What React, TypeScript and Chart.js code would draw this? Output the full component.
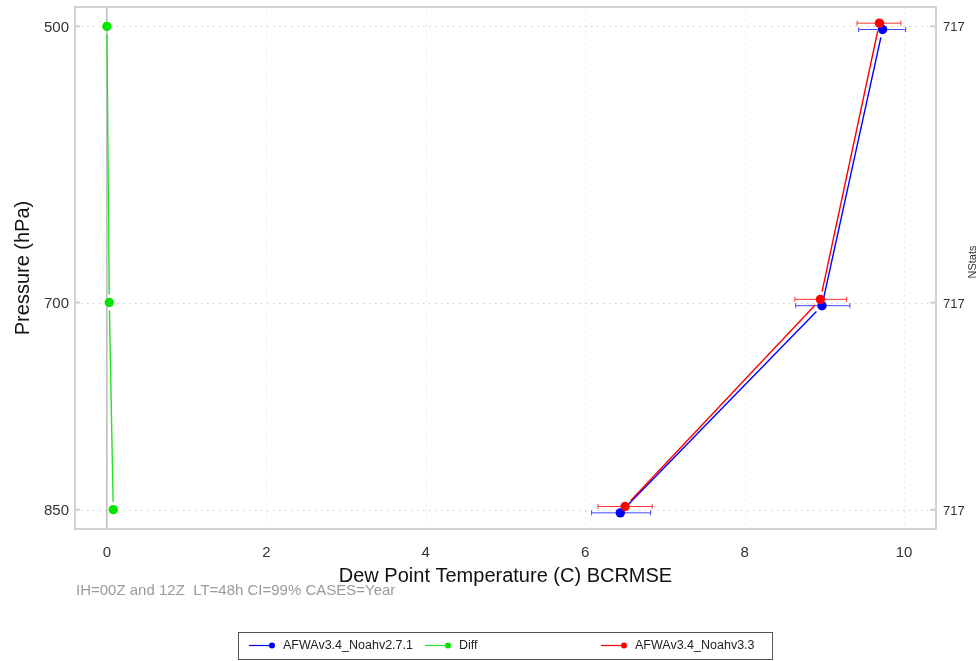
import { useEffect, useRef } from "react";
import { Chart, registerables } from "chart.js";

Chart.register(...registerables);

const FONT = "'Liberation Sans', Arial, Helvetica, sans-serif";

// Pressure levels (hPa) and bias-corrected RMSE of dew point (C)
const pressureLevels = [500, 700, 850];
const noah271Rmse = [9.73, 8.97, 6.44];
const noah271Low = [9.43, 8.64, 6.08];
const noah271High = [10.02, 9.32, 6.82];
const noah33Rmse = [9.69, 8.95, 6.5];
const noah33Low = [9.41, 8.63, 6.16];
const noah33High = [9.96, 9.28, 6.84];
const diffRmse = [0.0, 0.03, 0.08];
const nStats = [717, 717, 717];
const xTickValues = [0, 2, 4, 6, 8, 10];
const seriesLabels = ["AFWAv3.4_Noahv2.7.1", "Diff", "AFWAv3.4_Noahv3.3"];
const captionText = "IH=00Z and 12Z  LT=48h CI=99% CASES=Year";
// small vertical stagger (hPa) keeps the two model profiles apart
const stagger = 2.3;

const BLUE = "rgb(0,0,255)";
const GREEN = "rgb(0,230,0)";
const RED = "rgb(255,0,0)";

// gap (px) left between a connecting segment and the markers it joins
const MARKER_GAP = 8;

type Pt = { x: number; y: number; lo?: number; hi?: number };

const makeSeries = (vals: number[], offset: number, lo?: number[], hi?: number[]): Pt[] =>
  pressureLevels.map((p, i) => ({
    x: vals[i],
    y: p + offset,
    lo: lo ? lo[i] : undefined,
    hi: hi ? hi[i] : undefined,
  }));

// dash pattern that blanks each segment's ends, giving "points + broken line" look
const gappedDash = (c: any) => {
  const len = Math.hypot(c.p1.x - c.p0.x, c.p1.y - c.p0.y);
  const inner = Math.max(len - 2 * MARKER_GAP, 0.01);
  return [0, MARKER_GAP, inner, MARKER_GAP + 1000];
};

const framePlugin = {
  id: "frame",
  beforeDatasetsDraw(chart: any) {
    const { ctx, chartArea: a, scales } = chart;
    const x = scales.x;
    const y = scales.y;
    ctx.save();
    // dotted grid
    ctx.lineWidth = 1;
    ctx.setLineDash([1.5, 4.5]);
    ctx.strokeStyle = "#e2e2e2";
    xTickValues.forEach((v) => {
      if (v === 0) return;
      const px = Math.round(x.getPixelForValue(v)) + 0.5;
      ctx.beginPath();
      ctx.moveTo(px, a.top);
      ctx.lineTo(px, a.bottom);
      ctx.stroke();
    });
    ctx.strokeStyle = "#cfcfcf";
    pressureLevels.forEach((p) => {
      const py = Math.round(y.getPixelForValue(p)) + 0.5;
      ctx.beginPath();
      ctx.moveTo(a.left, py);
      ctx.lineTo(a.right, py);
      ctx.stroke();
    });
    ctx.setLineDash([]);
    // zero reference line
    ctx.strokeStyle = "#a8a8a8";
    ctx.lineWidth = 1.2;
    const zx = x.getPixelForValue(0);
    ctx.beginPath();
    ctx.moveTo(zx, a.top);
    ctx.lineTo(zx, a.bottom);
    ctx.stroke();
    // plot frame
    ctx.strokeStyle = "#d2d2d2";
    ctx.lineWidth = 2;
    ctx.strokeRect(a.left, a.top, a.right - a.left, a.bottom - a.top);
    // inward tick marks on both pressure axes
    pressureLevels.forEach((p) => {
      const py = y.getPixelForValue(p);
      ctx.beginPath();
      ctx.moveTo(a.left, py);
      ctx.lineTo(a.left + 5, py);
      ctx.moveTo(a.right - 6, py);
      ctx.lineTo(a.right, py);
      ctx.stroke();
    });
    // confidence interval bars
    chart.data.datasets.forEach((ds: any) => {
      if (!ds.errorColor) return;
      ctx.strokeStyle = ds.errorColor;
      ctx.lineWidth = 1;
      (ds.data as Pt[]).forEach((d) => {
        if (d.lo === undefined || d.hi === undefined) return;
        const py = y.getPixelForValue(d.y);
        const x0 = x.getPixelForValue(d.lo);
        const x1 = x.getPixelForValue(d.hi);
        ctx.beginPath();
        ctx.moveTo(x0, py);
        ctx.lineTo(x1, py);
        ctx.moveTo(x0, py - 2.5);
        ctx.lineTo(x0, py + 2.5);
        ctx.moveTo(x1, py - 2.5);
        ctx.lineTo(x1, py + 2.5);
        ctx.stroke();
      });
    });
    ctx.restore();
  },
  afterDraw(chart: any) {
    const { ctx, chartArea: a } = chart;
    ctx.save();
    // case caption
    ctx.fillStyle = "#9a9a9a";
    ctx.font = `15px ${FONT}`;
    ctx.textAlign = "left";
    ctx.textBaseline = "middle";
    ctx.fillText(captionText, a.left + 1, 591);
    // right axis title
    ctx.save();
    ctx.translate(973, 262);
    ctx.rotate(-Math.PI / 2);
    ctx.fillStyle = "#333";
    ctx.font = `11px ${FONT}`;
    ctx.textAlign = "center";
    ctx.fillText("NStats", 0, 0);
    ctx.restore();
    // legend box
    const boxL = 238, boxT = 632, boxW = 534, boxH = 27;
    ctx.strokeStyle = "#555";
    ctx.lineWidth = 1;
    ctx.strokeRect(boxL + 0.5, boxT + 0.5, boxW, boxH);
    const cy = boxT + boxH / 2;
    const cols = [249, 425, 601];
    chart.data.datasets.forEach((ds: any, i: number) => {
      const x0 = cols[i];
      ctx.strokeStyle = ds.borderColor;
      ctx.lineWidth = 1.2;
      ctx.beginPath();
      ctx.moveTo(x0, cy);
      ctx.lineTo(x0 + 23, cy);
      ctx.stroke();
      ctx.fillStyle = ds.pointBackgroundColor;
      ctx.beginPath();
      ctx.arc(x0 + 23, cy, 3, 0, Math.PI * 2);
      ctx.fill();
      ctx.fillStyle = "#222";
      ctx.font = `12.5px ${FONT}`;
      ctx.textAlign = "left";
      ctx.fillText(ds.label, x0 + 34, cy);
    });
    ctx.restore();
  },
};

const fixVertical = (width: number) => (s: any) => {
  s.width = width;
  s.paddingTop = 0;
  s.paddingBottom = 0;
};

export default function App() {
  const ref = useRef<HTMLCanvasElement | null>(null);

  useEffect(() => {
    if (!ref.current) return;
    const common = {
      borderWidth: 1.4,
      pointRadius: 4.7,
      pointBorderWidth: 0,
      pointHoverRadius: 4.7,
      tension: 0,
      fill: false,
      segment: { borderDash: gappedDash },
    };
    const chart = new Chart(ref.current, {
      type: "line",
      data: {
        datasets: [
          {
            ...common,
            label: seriesLabels[0],
            data: makeSeries(noah271Rmse, stagger, noah271Low, noah271High),
            borderColor: BLUE,
            pointBackgroundColor: BLUE,
            backgroundColor: BLUE,
            errorColor: "rgb(70,70,255)",
            order: 2,
          } as any,
          {
            ...common,
            label: seriesLabels[1],
            data: makeSeries(diffRmse, 0),
            borderColor: "rgb(40,225,40)",
            pointBackgroundColor: GREEN,
            backgroundColor: GREEN,
            order: 3,
          } as any,
          {
            ...common,
            label: seriesLabels[2],
            data: makeSeries(noah33Rmse, -stagger, noah33Low, noah33High),
            borderColor: RED,
            pointBackgroundColor: RED,
            backgroundColor: RED,
            errorColor: "rgb(255,50,50)",
            order: 1,
          } as any,
        ],
      },
      options: {
        animation: false,
        responsive: false,
        devicePixelRatio: 1,
        layout: { padding: { top: 7, bottom: 73, left: 0, right: 0 } },
        plugins: { legend: { display: false }, tooltip: { enabled: false } },
        scales: {
          x: {
            type: "linear",
            min: -0.4,
            max: 10.4,
            afterBuildTicks: (s: any) => {
              s.ticks = xTickValues.map((v) => ({ value: v }));
            },
            afterFit: (s: any) => {
              s.height = 59;
              s.paddingLeft = 0;
              s.paddingRight = 0;
            },
            grid: { display: false, drawTicks: false },
            border: { display: false },
            ticks: {
              font: { family: FONT, size: 15 },
              color: "#333",
              padding: 15,
              maxRotation: 0,
              callback: (v: any) => String(v),
            },
            title: {
              display: true,
              text: "Dew Point Temperature (C) BCRMSE",
              font: { family: FONT, size: 20 },
              color: "#111",
              padding: 0,
            },
          },
          y: {
            type: "linear",
            position: "left",
            reverse: true,
            min: 486,
            max: 864,
            afterBuildTicks: (s: any) => {
              s.ticks = pressureLevels.map((v) => ({ value: v }));
            },
            afterFit: fixVertical(75),
            grid: { display: false, drawTicks: false },
            border: { display: false },
            ticks: {
              font: { family: FONT, size: 15 },
              color: "#333",
              padding: 6,
              labelOffset: 1.5,
              callback: (v: any) => String(v),
            },
            title: {
              display: true,
              text: "Pressure (hPa)",
              font: { family: FONT, size: 20 },
              color: "#111",
              padding: { top: 11, bottom: 0 },
            },
          },
          y2: {
            type: "linear",
            position: "right",
            reverse: true,
            min: 486,
            max: 864,
            afterBuildTicks: (s: any) => {
              s.ticks = pressureLevels.map((v) => ({ value: v }));
            },
            afterFit: fixVertical(43),
            grid: { display: false, drawTicks: false },
            border: { display: false },
            ticks: {
              font: { family: FONT, size: 13 },
              color: "#333",
              padding: 7,
              labelOffset: 1.5,
              callback: (_v: any, i: number) => String(nStats[i]),
            },
          },
        },
      },
      plugins: [framePlugin],
    });
    return () => chart.destroy();
  }, []);

  return (
    <div style={{ position: "absolute", left: 0, top: 0, width: 979, height: 661, background: "#fff" }}>
      <canvas ref={ref} width={979} height={661} />
    </div>
  );
}
